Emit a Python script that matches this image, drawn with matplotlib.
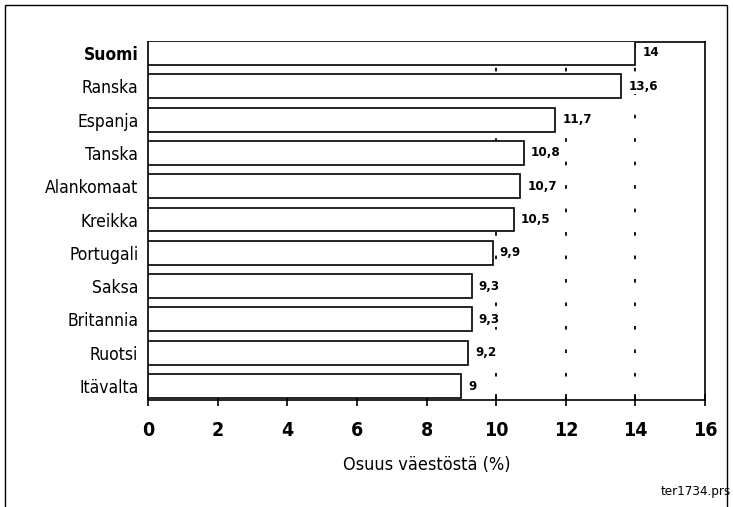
import matplotlib.pyplot as plt
from matplotlib.patches import Rectangle

countries = ["Suomi", "Ranska", "Espanja", "Tanska", "Alankomaat", "Kreikka",
             "Portugali", "Saksa", "Britannia", "Ruotsi", "Itävalta"]
values = [14, 13.6, 11.7, 10.8, 10.7, 10.5, 9.9, 9.3, 9.3, 9.2, 9]
value_labels = ["14", "13,6", "11,7", "10,8", "10,7", "10,5", "9,9", "9,3", "9,3", "9,2", "9"]
xticks = [0, 2, 4, 6, 8, 10, 12, 14, 16]

plt.rcParams['font.family'] = ['DejaVu Sans']
plt.rcParams['font.stretch'] = 'condensed'

fig = plt.figure(figsize=(7.33, 5.07), dpi=100)
ax = fig.add_axes([148 / 733, 1 - 400 / 507, (705 - 148) / 733, (400 - 42) / 507])

n = len(countries)
ypos = list(range(n))
ax.barh(ypos, values, height=0.72, color='white', edgecolor='black', linewidth=1.2, zorder=3)

# dashed reference lines
for x in [10, 12, 14]:
    ax.axvline(x, color='black', linestyle=(0, (2, 11)), linewidth=1.3, zorder=1)

for y, v, lab in zip(ypos, values, value_labels):
    ax.text(v + 0.2, y, lab, va='center', ha='left', fontsize=9.5, fontweight='bold',
            zorder=4, bbox=dict(facecolor='white', edgecolor='none', pad=1))

ax.set_ylim(n - 1 + 0.42, -0.33)
ax.set_xlim(0, 16)
ax.set_yticks(ypos)
ax.set_yticklabels(countries, fontsize=12.5)
ax.get_yticklabels()[0].set_fontweight('bold')
ax.set_xticks(xticks)
ax.set_xticklabels([str(t) for t in xticks], fontsize=14, fontweight='bold')
ax.tick_params(axis='y', length=0, pad=7)
ax.tick_params(axis='x', direction='inout', length=8, width=1.2, pad=11)
for s in ax.spines.values():
    s.set_linewidth(1.2)
ax.set_xlabel("Osuus väestöstä (%)", fontsize=13, labelpad=12)

fig.text(731 / 733, 1 - 492 / 507, "ter1734.prs", ha='right', va='center', fontsize=9.5)
fig.patches.append(Rectangle((5 / 733, -0.01), 722 / 733, 1 - 5 / 507 + 0.01,
                             transform=fig.transFigure, fill=False,
                             edgecolor='black', linewidth=1.0))

fig.savefig("out.png", dpi=100)
